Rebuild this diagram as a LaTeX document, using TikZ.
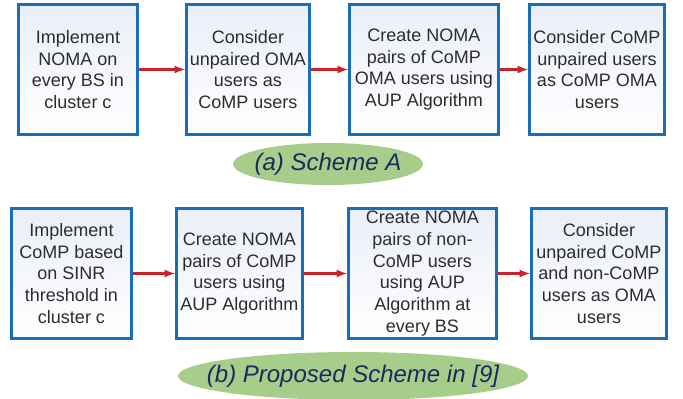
\documentclass[tikz,border=0pt]{standalone}
\usepackage{fontspec}
\setmainfont{Liberation Sans}
\usetikzlibrary{positioning,shapes.geometric}
\definecolor{boxblue}{RGB}{25,110,185}
\definecolor{boxtop}{RGB}{234,238,248}
\definecolor{arrowred}{RGB}{200,35,40}
\definecolor{ovalgreen}{RGB}{166,205,138}
\definecolor{textgray}{RGB}{45,45,45}
\definecolor{capblue}{RGB}{30,40,95}
\begin{document}
\begin{tikzpicture}[x=1pt, y=1pt, >=latex,
  stepbox/.style={rectangle, draw=boxblue, line width=3pt, top color=boxtop, bottom color=white,
    minimum height=130pt, inner sep=1pt, align=center, text=textgray,
    font=\fontsize{18}{21.7}\selectfont},
  caption/.style={ellipse, fill=ovalgreen, inner sep=0pt},
  captext/.style={text=capblue, inner sep=0pt, font=\fontsize{24}{27}\selectfont\itshape},
  flow/.style={->, draw=arrowred, line width=2.5pt}]
\useasboundingbox (0,0) rectangle (683,-399);
% first scheme
\node (a1) [stepbox, minimum width=119pt] at (78,-69.5) {Implement\\NOMA on\\every BS in\\cluster c};
\node (a2) [stepbox, minimum width=123pt, right=46pt of a1] {Consider\\unpaired OMA\\users as\\CoMP users};
\node (a3) [stepbox, minimum width=149pt, right=37pt of a2] {Create NOMA\\pairs of CoMP\\OMA users using\\AUP Algorithm};
\node (a4) [stepbox, minimum width=135pt, right=28pt of a3] {Consider CoMP\\unpaired users\\as CoMP OMA\\users};
\node (capa) [caption, minimum width=190pt, minimum height=42pt,
  label={[captext]center:(a) Scheme A}] at (328,-164) {};
\draw[flow] (a1) -- (a2);
\draw[flow] (a2) -- (a3);
\draw[flow] (a3) -- (a4);
% second scheme
\node (b1) [stepbox, minimum width=120pt] at (71.5,-273.5) {Implement\\CoMP based\\on SINR\\threshold in\\cluster c};
\node (b2) [stepbox, minimum width=126pt, right=42pt of b1] {Create NOMA\\pairs of CoMP\\users using\\AUP Algorithm};
\node (b3) [stepbox, minimum width=148pt, right=43pt of b2] {Create NOMA\\pairs of non-\\CoMP users\\using AUP\\Algorithm at\\every BS};
\node (b4) [stepbox, minimum width=135pt, right=32pt of b3] {Consider\\unpaired CoMP\\and non-CoMP\\users as OMA\\users};
\node (capb) [caption, minimum width=350pt, minimum height=48pt,
  label={[captext]center:(b) Proposed Scheme in [9]}] at (353,-376) {};
\draw[flow] (b1) -- (b2);
\draw[flow] (b2) -- (b3);
\draw[flow] (b3) -- (b4);
\end{tikzpicture}
\end{document}
